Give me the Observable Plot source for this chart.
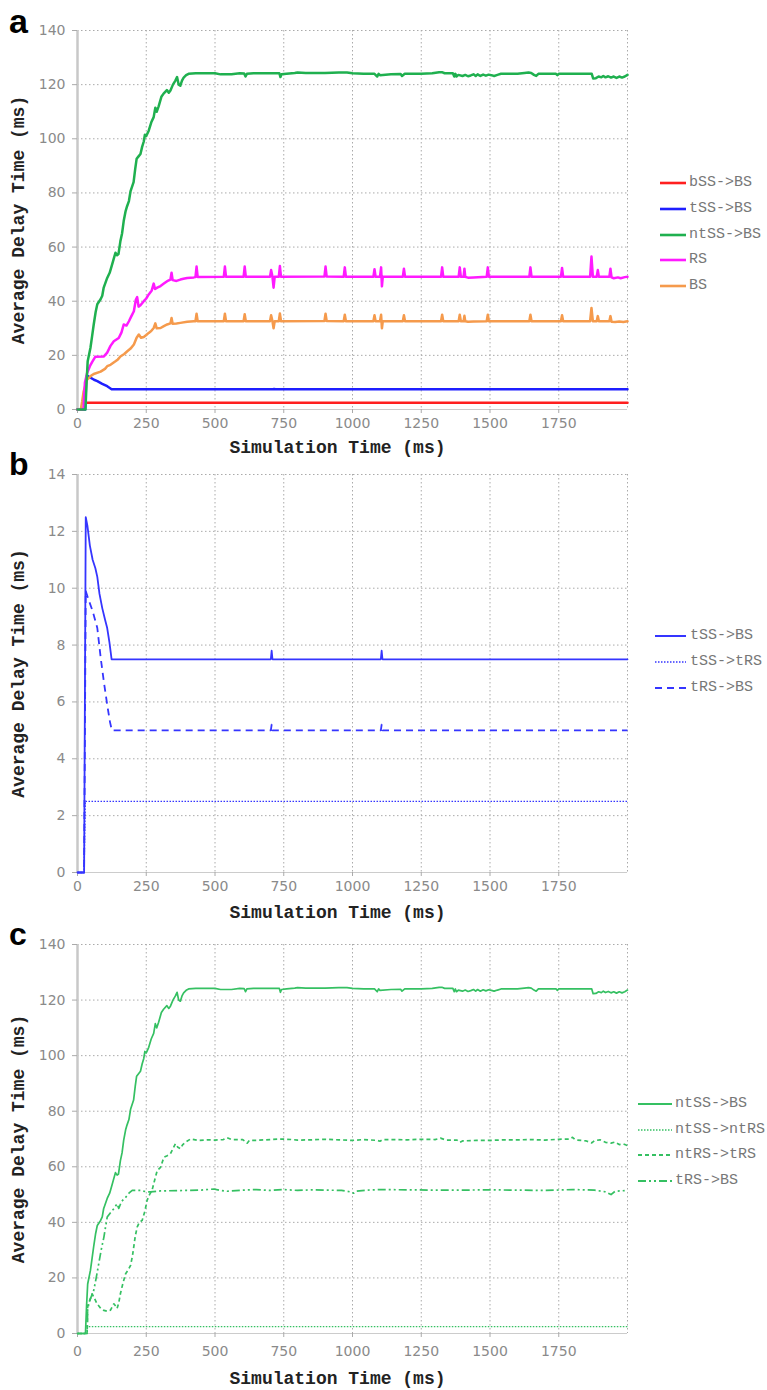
<!DOCTYPE html>
<html>
<head>
<meta charset="utf-8">
<script src="https://cdn.jsdelivr.net/npm/d3@7"></script>
<script src="https://cdn.jsdelivr.net/npm/@observablehq/plot@0.6"></script>
<style>
  html, body { margin: 0; padding: 0; background: #fff; }
  #root { position: relative; width: 767px; height: 1390px; overflow: hidden; }
  .panel { position: absolute; left: 0; }
  .plabel { position: absolute; left: 9px; font-family: "Liberation Sans", Arial, sans-serif; font-weight: bold; color: #000; line-height: 1; }
  .legend { position: absolute; font-family: "Liberation Mono", monospace; font-size: 15px; color: #777; }
  .legend .row { position: absolute; white-space: nowrap; height: 20px; }
  .legend svg { position: absolute; top: 0; }
  .legend span { position: absolute; top: 1px; }
</style>
</head>
<body>
<div id="root"></div>
<script>
// ---------- data ----------
const xTicks = [0, 250, 500, 750, 1000, 1250, 1500, 1750];
const xGrid = [0, 250, 500, 750, 1000, 1250, 1500, 1750, 2000];
const yTicksAC = [0, 20, 40, 60, 80, 100, 120, 140];
const yTicksB = [0, 2, 4, 6, 8, 10, 12, 14];

// panel a
const bSS_BS = [[0,0],[22,0],[26,2.5],[2000,2.5]];
const tSS_BS_a = [[0,0],[28,0],[32,12],[35,12.5],[60,11],[72,10.5],[90,9.5],[108,8.6],[124,7.5],[710,7.5],[715,7.6],[720,7.5],[2000,7.5]];
const ntSS_BS = [[0,0],[29,0],[33,10],[37,17.8],[47,22.7],[53,27],[59,31.4],[66,36],[72,38.9],[84,40.7],[90,42],[95,44.9],[108,48.6],[117,50.5],[126,53.6],[138,57.9],[144,57],[149,57.4],[156,62.2],[162,65],[168,69.6],[175,73.3],[180,75],[187,77],[193,80.7],[204,84],[210,89],[215,92.6],[222,93.5],[229,94.4],[235,97],[241,99],[245,101.5],[250,101],[259,103],[268,106],[277,108],[283,111.5],[288,110],[295,112],[305,115.5],[313,116.7],[325,118],[332,117],[338,117.8],[347,120],[356,121.5],[362,122.8],[368,120],[374,119.6],[380,121.5],[386,122.6],[395,123.5],[404,124],[430,124.2],[500,124.2],[520,123.8],[560,123.8],[590,124.2],[606,124.1],[611,123],[616,124],[640,124.2],[700,124.2],[734,124.2],[738,122.8],[742,123.8],[760,124],[790,124.3],[800,124.5],[830,124.3],[900,124.3],[950,124.5],[980,124.5],[1000,124.2],[1040,124],[1080,124],[1090,123],[1095,124],[1100,123.5],[1140,123.8],[1175,123.9],[1180,123.2],[1190,124],[1250,124],[1290,124.2],[1315,124.6],[1325,124.6],[1335,124.2],[1365,124.2],[1370,123],[1374,124],[1378,123],[1385,123.6],[1400,123.2],[1410,123.6],[1420,123.1],[1430,123.4],[1440,123.8],[1448,123.2],[1455,123.8],[1465,123.2],[1475,123.7],[1485,123.3],[1495,123.7],[1505,123.5],[1515,123.2],[1527,123.6],[1540,124],[1600,124],[1625,124.3],[1640,124.5],[1650,124.3],[1660,123.6],[1668,123.2],[1676,124],[1690,124],[1740,124],[1745,123.5],[1750,124],[1870,124],[1875,122.3],[1885,122.4],[1895,123],[1905,122.7],[1912,123.2],[1920,122.7],[1930,123.1],[1940,122.6],[1950,123],[1960,122.5],[1970,123],[1980,122.6],[1990,123],[2000,123.6]];
const RS = [[0,0],[22,0],[27,10],[35,13.5],[45,16],[53,17.5],[65,19.5],[96,19.6],[108,21],[120,23.5],[132,25.2],[150,26.4],[160,28.5],[168,31.4],[178,31],[187,32.6],[196,34.5],[205,36.3],[212,40.5],[217,41.5],[222,38],[229,38.5],[241,40],[250,41],[259,42.5],[270,44],[277,46.5],[282,44.5],[290,45],[302,45.6],[314,46.5],[326,47.4],[338,48],[342,50.5],[346,47.8],[360,47.5],[374,48],[385,48.3],[399,48.6],[423,48.8],
  [429,48.9],[433,52.8],[437,48.9],[532,49],[536,52.8],[540,49],[604,49],[608,52.8],[612,49],[700,49],[704,51.5],[709,49],[713,45],[717,49],[732,49],[736,53],[740,49],[898,49.1],[902,52.8],[906,49.1],[968,49],[972,52.5],[976,49],[1076,49],[1080,51.8],[1084,49],[1100,49],[1104,52.5],[1107,45.5],[1110,49],[1183,49],[1187,52],[1191,49],[1322,49],[1326,52.5],[1330,49],[1386,49],[1390,52.5],[1394,49],[1404,49],[1407,52],[1410,49],[1420,48.7],[1440,48.8],[1488,49],[1492,52.5],[1496,49],[1643,49],[1647,52.5],[1651,49],[1758,49],[1762,52.3],[1766,49],[1864,49],[1869,56.5],[1874,49],[1888,49],[1892,51.5],[1896,49],[1934,49],[1938,52],[1942,48.8],[1950,48.5],[1965,48.8],[1975,48.5],[1990,48.9],[2000,49]];
const BS = [[0,0],[12,0],[17,3],[22,6.5],[29,9.1],[35,11],[41,11.6],[50,12.5],[59,13.1],[84,14],[100,15],[108,16],[120,16.5],[138,17.8],[147,18.5],[156,19.6],[170,20.5],[181,21.5],[193,22.5],[205,24],[215,26.5],[223,27.7],[231,26.5],[241,26.8],[250,27.5],[259,28.3],[268,29],[277,30.1],[283,31.8],[288,30],[302,30.1],[314,30.8],[326,31.4],[338,31.8],[342,33.8],[346,31.7],[360,31.8],[374,32],[399,32.4],[423,32.6],
  [429,32.6],[433,35.4],[437,32.6],[532,32.6],[536,35.4],[540,32.6],[604,32.6],[608,35.2],[612,32.6],[700,32.6],[704,34.8],[709,32.6],[713,30],[717,32.6],[732,32.6],[736,35.5],[740,32.6],[898,32.7],[902,35.4],[906,32.7],[968,32.6],[972,35],[976,32.6],[1076,32.6],[1080,34.8],[1084,32.6],[1100,32.6],[1104,35],[1107,30],[1110,32.6],[1183,32.6],[1187,34.8],[1191,32.6],[1322,32.6],[1326,35],[1330,32.6],[1386,32.6],[1390,35],[1394,32.6],[1404,32.6],[1407,34.6],[1410,32.6],[1420,32.4],[1440,32.5],[1488,32.6],[1492,35],[1496,32.6],[1643,32.6],[1647,35],[1651,32.6],[1758,32.6],[1762,34.8],[1766,32.6],[1864,32.6],[1869,37.5],[1874,32.6],[1888,32.6],[1892,34.5],[1896,32.6],[1934,32.6],[1938,34.5],[1942,32.4],[1955,32.3],[1970,32.5],[1985,32.3],[2000,32.6]];

// panel b
const tSS_BS_b = [[0,0],[24,0],[30,12.5],[36,12.2],[45,11.5],[55,11],[65,10.7],[72,10.4],[80,9.8],[90,9.3],[100,8.9],[108,8.6],[116,8.1],[124,7.5],[703,7.5],[706,7.8],[709,7.5],[1103,7.5],[1106,7.8],[1109,7.5],[2000,7.5]];
const tSS_tRS = [[0,0],[24,0],[28,2.5],[2000,2.5]];
const tRS_BS_b = [[0,0],[24,0],[30,9.9],[40,9.6],[55,9.2],[72,8.6],[85,7.5],[96,6.7],[108,5.9],[118,5.3],[125,5.0],[703,5.0],[706,5.2],[709,5.0],[1103,5.0],[1106,5.2],[1109,5.0],[2000,5.0]];

// panel c
const ntSS_ntRS = [[0,0],[35,0],[36,2.5],[2000,2.5]];
const ntRS_tRS = [[0,0],[35,0],[37,10],[45,12],[53,14.3],[60,13],[71,10.7],[85,9],[96,8.3],[108,8],[120,8.4],[132,10.7],[138,10],[144,9],[150,11],[156,14.3],[165,18],[175,21.5],[185,23],[193,24.5],[200,28],[210,35],[217,38.3],[225,40],[235,40.7],[245,44],[253,47.9],[262,50],[271,51.5],[280,55],[290,58.7],[302,59.8],[314,63.4],[326,64],[338,64.7],[347,66.5],[356,68.3],[365,67],[374,66.5],[383,68],[393,68.9],[411,70],[440,69.5],[470,69.7],[500,69.6],[530,69.8],[544,70.5],[560,69.8],[600,69.8],[612,69],[617,68.5],[625,69.5],[650,69.5],[700,69.8],[740,70],[780,69.8],[800,69.6],[850,69.7],[900,69.9],[950,69.7],[1000,69.5],[1040,69.8],[1090,69.5],[1100,69.2],[1110,69.8],[1150,69.8],[1200,69.7],[1250,69.9],[1300,69.8],[1320,70.3],[1340,69.6],[1380,69.6],[1390,68.8],[1400,69.3],[1450,69.5],[1500,69.5],[1550,69.7],[1600,69.7],[1650,69.8],[1700,69.6],[1750,69.9],[1790,70],[1800,70.6],[1810,69.7],[1850,69.3],[1870,68.6],[1880,69.4],[1900,69.7],[1920,68.8],[1940,68.5],[1955,68.9],[1970,68],[1985,68.2],[2000,67.6]];
const tRS_BS_c = [[0,0],[35,0],[37,9],[45,12],[59,15.5],[68,20],[77,25],[86,30],[96,34.7],[108,41.9],[120,43.5],[132,44.9],[144,46.7],[150,45],[160,47.5],[175,49],[187,50.5],[199,51.5],[229,51.5],[250,51],[265,51],[300,51.3],[400,51.5],[450,51.6],[496,52],[520,51.5],[544,51.2],[600,51.6],[650,51.8],[700,51.5],[750,51.8],[800,51.5],[850,51.7],[900,51.6],[960,51.5],[990,51],[1004,50.5],[1015,51.2],[1050,51.6],[1100,51.8],[1200,51.7],[1300,51.6],[1400,51.6],[1500,51.7],[1600,51.6],[1700,51.5],[1800,51.8],[1880,51.6],[1920,51],[1940,50],[1955,51.2],[2000,51.5]];

// ---------- styles ----------
const C = {
  red: "#ff1f1f", blueA: "#1f1fff", greenA: "#1fb04f", magenta: "#ff1aff", orange: "#f59a4c",
  blueB: "#3535ff", greenC: "#35c062"
};

const panelsSpec = [
  {
    key: "a", top: 0, height: 459, mt: 30, mb: 50, yDomain: [0,140], yTicks: yTicksAC, xPad: 5, titleDy: 38, sw: 2.5,
    series: [
      {name: "bSS->BS", data: bSS_BS, stroke: C.red, dash: null},
      {name: "tSS->BS", data: tSS_BS_a, stroke: C.blueA, dash: null},
      {name: "BS", data: BS, stroke: C.orange, dash: null},
      {name: "RS", data: RS, stroke: C.magenta, dash: null},
      {name: "ntSS->BS", data: ntSS_BS, stroke: C.greenA, dash: null}
    ],
    legendOrder: ["bSS->BS","tSS->BS","ntSS->BS","RS","BS"],
    legend: {x0: 660, len: 26, tx: 689, rows: [183,209,235,260,286], sw: 2.6},
    label: {top: 4, size: 34}
  },
  {
    key: "b", top: 459, height: 463, mt: 15, mb: 50, yDomain: [0,14], yTicks: yTicksB, xPad: 5, titleDy: 40, sw: 1.8,
    series: [
      {name: "tSS->BS", data: tSS_BS_b, stroke: C.blueB, dash: null},
      {name: "tSS->tRS", data: tSS_tRS, stroke: C.blueB, dash: "1.5,1.5", sw: 1.3},
      {name: "tRS->BS", data: tRS_BS_b, stroke: C.blueB, dash: "7,5"}
    ],
    legendOrder: ["tSS->BS","tSS->tRS","tRS->BS"],
    legend: {x0: 655, len: 31, tx: 690, rows: [636,662,688], sw: 2},
    label: {top: 448, size: 32}
  },
  {
    key: "c", top: 922, height: 468, mt: 22, mb: 57, yDomain: [0,140], yTicks: yTicksAC, xPad: 9, titleDy: 45, sw: 1.7,
    series: [
      {name: "ntSS->BS", data: ntSS_BS, stroke: C.greenC, dash: null},
      {name: "ntSS->ntRS", data: ntSS_ntRS, stroke: C.greenC, dash: "1.5,1.5", sw: 1.3},
      {name: "ntRS->tRS", data: ntRS_tRS, stroke: C.greenC, dash: "4,3"},
      {name: "tRS->BS", data: tRS_BS_c, stroke: C.greenC, dash: "8,3,2,3,2,3"}
    ],
    legendOrder: ["ntSS->BS","ntSS->ntRS","ntRS->tRS","tRS->BS"],
    legend: {x0: 638, len: 34, tx: 675, rows: [1104,1130,1155,1181], sw: 2},
    label: {top: 918, size: 32}
  }
];

const root = document.getElementById("root");
const titleFont = "Liberation Mono, DejaVu Sans Mono, monospace";
const tickFmt = d => String(d);

for (const p of panelsSpec) {
  const marks = [
    Plot.gridX(xGrid, {stroke: "#aaa", strokeOpacity: 1, strokeDasharray: "1.5,2.5"}),
    Plot.gridY(p.yTicks, {stroke: "#aaa", strokeOpacity: 1, strokeDasharray: "1.5,2.5"}),
    Plot.ruleY([p.yDomain[0]], {stroke: "#ccc", strokeWidth: 1}),
    Plot.ruleX([0], {stroke: "#c8c8c8", strokeWidth: 2.5}),
    Plot.axisY(p.yTicks, {tickSize: 5, tickPadding: 7, tickFormat: tickFmt, fontSize: 14, fontFamily: "DejaVu Sans, sans-serif", fill: "#8a8a8a", stroke: "#aaa", label: null}),
    Plot.axisX(xTicks, {tickSize: 4, tickPadding: p.xPad, tickFormat: tickFmt, fontSize: 14, fontFamily: "DejaVu Sans, sans-serif", fill: "#8a8a8a", stroke: "#aaa", label: null}),
  ];
  for (const s of p.series) {
    marks.push(Plot.line(s.data, {
      x: d => d[0], y: d => d[1], stroke: s.stroke,
      strokeWidth: s.sw ?? p.sw, strokeDasharray: s.dash ?? undefined,
      strokeLinejoin: "round", strokeLinecap: s.dash ? "butt" : "round", curve: "linear"
    }));
  }
  marks.push(Plot.text(["Simulation Time (ms)"], {
    frameAnchor: "bottom", dy: p.titleDy, dx: -15, fontFamily: titleFont, fontWeight: "bold", fontSize: 18, fill: "#222", lineAnchor: "middle"
  }));
  marks.push(Plot.text(["Average Delay Time (ms)"], {
    frameAnchor: "left", dx: -59, rotate: -90, fontFamily: titleFont, fontWeight: "bold", fontSize: 18, fill: "#222", textAnchor: "middle"
  }));

  const chart = Plot.plot({
    width: 767, height: p.height,
    marginLeft: 77, marginRight: 140, marginTop: p.mt, marginBottom: p.mb,
    x: {domain: [0, 2000], axis: null},
    y: {domain: p.yDomain, axis: null},
    style: {background: "transparent", overflow: "visible", fontFamily: "DejaVu Sans, sans-serif"},
    marks
  });
  chart.classList.add("panel");
  chart.style.top = p.top + "px";
  root.appendChild(chart);

  const lab = document.createElement("div");
  lab.className = "plabel";
  lab.textContent = p.key;
  lab.style.top = p.label.top + "px";
  lab.style.fontSize = p.label.size + "px";
  root.appendChild(lab);

  const leg = document.createElement("div");
  leg.className = "legend";
  leg.style.left = "0px"; leg.style.top = "0px";
  p.legendOrder.forEach((name, i) => {
    const s = p.series.find(d => d.name === name);
    const cy = p.legend.rows[i];
    const row = document.createElement("div");
    row.className = "row";
    row.style.left = p.legend.x0 + "px";
    row.style.top = (cy - 10) + "px";
    const svg = d3.create("svg").attr("width", p.legend.len).attr("height", 20).style("left", "0px");
    svg.append("line").attr("x1", 0).attr("x2", p.legend.len).attr("y1", 10).attr("y2", 10)
      .attr("stroke", s.stroke).attr("stroke-width", s.dash && s.dash.startsWith("1.5") ? 1.5 : p.legend.sw)
      .attr("stroke-dasharray", s.dash);
    row.appendChild(svg.node());
    const sp = document.createElement("span");
    sp.textContent = name;
    sp.style.left = (p.legend.tx - p.legend.x0) + "px";
    row.appendChild(sp);
    leg.appendChild(row);
  });
  root.appendChild(leg);
}
</script>
</body>
</html>
